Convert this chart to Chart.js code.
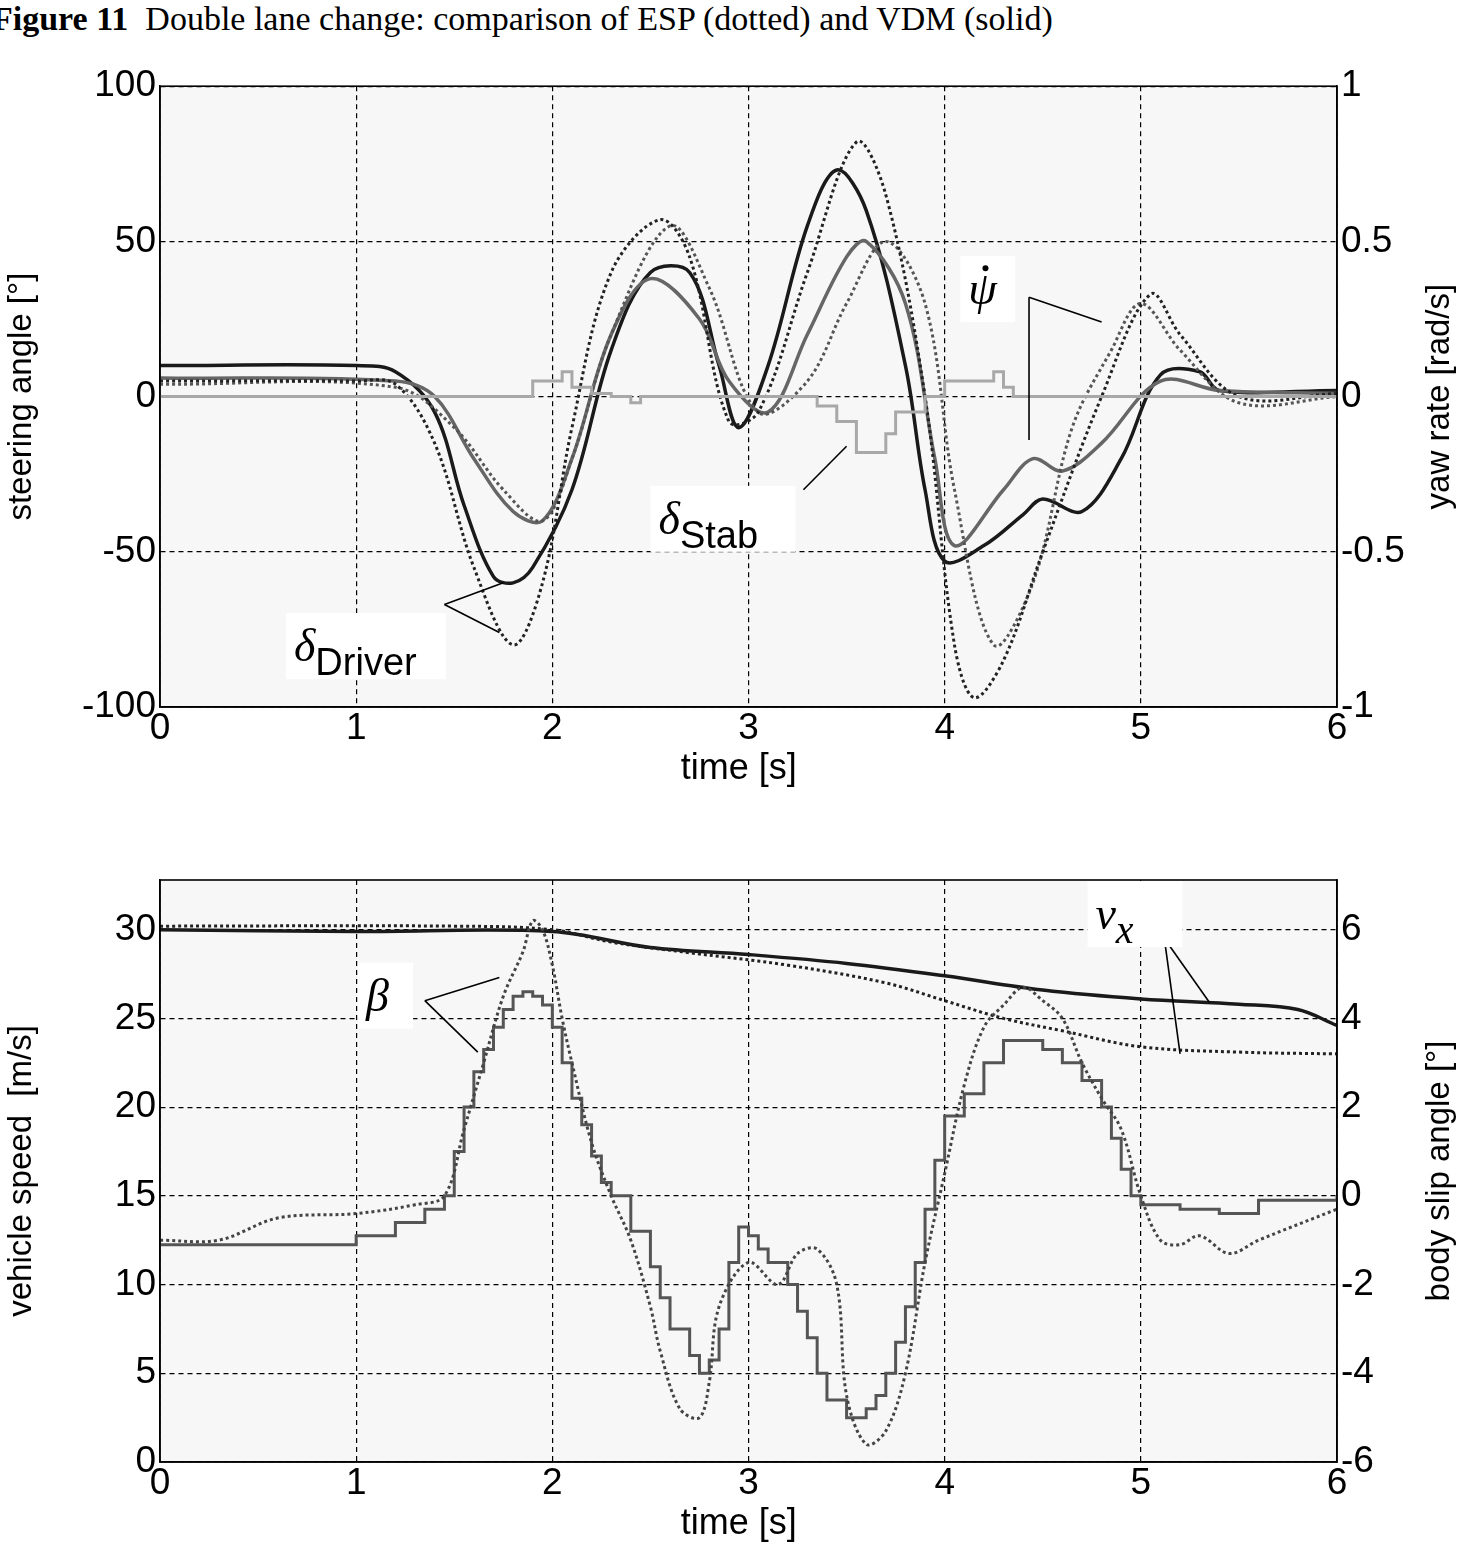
<!DOCTYPE html>
<html><head><meta charset="utf-8">
<script src="https://cdn.jsdelivr.net/npm/chart.js@4.4.0/dist/chart.umd.min.js"></script>
<style>
body{margin:0;background:#fff;width:1467px;height:1550px;position:relative;overflow:hidden;font-family:"Liberation Sans",Arial,sans-serif}
#title{position:absolute;left:-8px;top:0;font-family:"Liberation Serif",serif;font-size:34px;white-space:nowrap}
.wrap{position:absolute;left:0;width:1467px}
</style></head><body>
<div id="title"><b>Figure 11</b>&nbsp; Double lane change: comparison of ESP (dotted) and VDM (solid)</div>
<div class="wrap" style="top:60px;height:735px"><canvas id="top"></canvas></div>
<div class="wrap" style="top:850px;height:700px"><canvas id="bot"></canvas></div>
<script>
// top: steering angle [deg] (left), yaw rate [rad/s] (right)
const driverVdmT = [0,1.0,1.2,1.4,1.55,1.7,1.8,1.9,2.1,2.3,2.5,2.7,2.85,2.95,3.1,3.3,3.45,3.6,3.8,3.9,4.0,4.2,4.4,4.5,4.7,4.9,5.1,5.3,5.4,6.0];
const driverVdm  = [10,10,8,-5,-35,-58,-60,-55,-30,15,40,40,10,-10,10,55,73,60,10,-30,-53,-48,-38,-33,-37,-20,7,8,2,2];
const driverEspT = [0,1.0,1.2,1.4,1.6,1.8,1.95,2.1,2.3,2.55,2.7,2.9,3.05,3.3,3.55,3.7,3.9,4.05,4.15,4.3,4.5,4.8,5.05,5.2,5.5,6.0];
const driverEsp  = [5,5,4,-15,-55,-80,-60,-10,40,57,45,-8,-5,40,82,65,0,-80,-97,-85,-50,0,33,20,0,1];
const yawVdmT = [0,1.2,1.4,1.6,1.8,1.95,2.1,2.3,2.5,2.75,2.9,3.1,3.3,3.5,3.6,3.8,3.95,4.05,4.3,4.45,4.6,4.8,5.1,5.4,6.0];
const yawVdm  = [0.06,0.05,0.0,-0.2,-0.37,-0.4,-0.2,0.2,0.38,0.25,0.05,-0.05,0.2,0.45,0.5,0.3,-0.2,-0.48,-0.3,-0.2,-0.24,-0.15,0.05,0.02,0.01];
const yawEspT = [0,1.2,1.5,1.75,1.95,2.1,2.3,2.6,2.8,3.05,3.3,3.5,3.7,3.9,4.05,4.25,4.45,4.65,4.85,5.0,5.2,5.5,6.0];
const yawEsp  = [0.04,0.03,-0.1,-0.3,-0.4,-0.2,0.2,0.55,0.35,-0.05,0.05,0.3,0.5,0.3,-0.3,-0.8,-0.6,-0.1,0.15,0.3,0.15,-0.02,0.0];
const stabT = [0,1.85,1.9,2.05,2.1,2.2,2.3,2.4,2.45,3.3,3.35,3.45,3.55,3.7,3.75,3.9,4.0,4.1,4.25,4.3,4.35,6.0];
const stab  = [0,0,5,8,3,1,0,-2,0,0,-3,-8,-18,-12,-5,0,5,5,8,3,0,0];
// bottom: vehicle speed [m/s] (left), body slip angle [deg] (right)
const speedVdmT = [0,1.0,2.0,2.5,3.0,3.5,4.0,4.5,5.0,5.5,5.8,6.0];
const speedVdm  = [30,29.9,29.9,29.0,28.6,28.1,27.4,26.6,26.1,25.8,25.5,24.6];
const speedEspT = [0,1.5,2.0,2.3,2.7,3.2,3.7,4.0,4.3,4.6,5.0,5.5,6.0];
const speedEsp  = [30.2,30.2,30.0,29.3,28.7,28.0,27.0,26.0,25.0,24.3,23.4,23.1,23.0];
const betaVdmT = [0,0.5,1.0,1.2,1.35,1.45,1.5,1.55,1.6,1.65,1.7,1.75,1.8,1.85,1.9,1.95,2.0,2.05,2.1,2.15,2.2,2.25,2.3,2.4,2.5,2.55,2.6,2.7,2.75,2.8,2.85,2.9,2.95,3.0,3.05,3.1,3.2,3.25,3.3,3.35,3.4,3.5,3.6,3.65,3.7,3.75,3.8,3.85,3.9,3.95,4.0,4.1,4.2,4.3,4.5,4.6,4.7,4.8,4.85,4.9,4.95,5.0,5.2,5.4,5.6,6.0];
const betaVdm  = [-1.1,-1.1,-0.9,-0.6,-0.3,0,1,2,2.8,3.3,3.8,4.2,4.5,4.6,4.5,4.3,3.8,3.0,2.2,1.6,0.9,0.3,0,-0.8,-1.6,-2.3,-3.0,-3.6,-4.0,-3.7,-3.0,-1.5,-0.7,-0.9,-1.2,-1.5,-2.0,-2.6,-3.2,-4.0,-4.6,-5.0,-4.8,-4.5,-4.0,-3.3,-2.5,-1.5,-0.3,0.8,1.8,2.3,3.0,3.5,3.3,3.0,2.6,2.0,1.3,0.6,0,-0.2,-0.3,-0.4,-0.1,0];
const betaEspT = [0,0.3,0.6,1.0,1.3,1.45,1.55,1.65,1.75,1.85,1.9,1.95,2.0,2.05,2.1,2.2,2.3,2.4,2.5,2.55,2.65,2.75,2.8,2.85,3.0,3.15,3.25,3.35,3.45,3.5,3.6,3.7,3.8,3.9,4.0,4.1,4.2,4.3,4.4,4.5,4.6,4.7,4.8,4.9,5.0,5.1,5.2,5.3,5.45,5.6,6.0];
const betaEsp  = [-1.0,-1.0,-0.5,-0.4,-0.2,0,1.5,3.0,4.5,5.5,6.2,6.0,5.2,4.0,3.0,1.2,0,-1.0,-2.5,-3.5,-4.8,-5.0,-4.2,-2.5,-1.5,-2.0,-1.3,-1.2,-2.0,-4.5,-5.6,-5.3,-4.0,-1.5,0.5,2.5,3.8,4.3,4.7,4.4,4.0,3.0,2.2,1.5,0,-1.0,-1.1,-0.9,-1.3,-1.0,-0.3];
const xTicks = [0,1,2,3,4,5,6];

const tickFont = {family:'"Liberation Sans",Arial,sans-serif', size:37};
const titleFont = {family:'"Liberation Sans",Arial,sans-serif', size:33};
const pts = (t, v) => t.map((x, i) => ({x, y: v[i]}));
const grid = {color:'#000', lineWidth:1.2, drawTicks:false};
const border = {color:'#000', width:1.5, dash:[5,4]};

function ds(t, v, axis, color, dotted, width, stepped) {
  return {data: pts(t, v), yAxisID: axis, borderColor: color, borderWidth: width,
    borderDash: dotted ? [3,3] : [], pointRadius: 0, tension: stepped ? 0 : 0.35,
    stepped: stepped ? 'before' : false, fill: false};
}

const annot = {
  id: 'annot',
  beforeDraw(c) {
    const a = c.chartArea, ctx = c.ctx;
    ctx.save(); ctx.fillStyle = '#f7f7f7';
    ctx.fillRect(a.left, a.top, a.width, a.height); ctx.restore();
  },
  afterDraw(c, args, o) {
    const ctx = c.ctx, sx = c.scales.x, sy = c.scales.y, a = c.chartArea;
    ctx.save();
    ctx.strokeStyle = '#000'; ctx.lineWidth = 1.6; ctx.setLineDash([]);
    ctx.strokeRect(a.left, a.top, a.width, a.height);
    ctx.fillStyle = '#000'; ctx.textAlign = 'center';
    ctx.font = '36px "Liberation Sans",Arial,sans-serif';
    ctx.fillText('time [s]', sx.getPixelForValue(2.95), a.bottom + 72);
    ctx.save();
    ctx.translate(1440, (a.top + a.bottom) / 2); ctx.rotate(-Math.PI / 2);
    ctx.font = '33px "Liberation Sans",Arial,sans-serif';
    ctx.textBaseline = 'middle';
    ctx.fillText(o.rightTitle, 0, 0);
    ctx.restore();
    (o.lines || []).forEach(l => {
      ctx.beginPath();
      ctx.moveTo(sx.getPixelForValue(l[0]), sy.getPixelForValue(l[1]));
      ctx.lineTo(sx.getPixelForValue(l[2]), sy.getPixelForValue(l[3]));
      ctx.stroke();
    });
    (o.labels || []).forEach(l => {
      const x = sx.getPixelForValue(l.x), y = sy.getPixelForValue(l.y);
      ctx.fillStyle = '#fff';
      ctx.fillRect(x - l.w / 2, y - 38, l.w, 66);
      ctx.fillStyle = '#000'; ctx.textAlign = 'left';
      ctx.font = 'italic 46px "Liberation Serif",serif';
      ctx.fillText(l.main, x - l.w / 2 + 8, y + 10);
      const w = ctx.measureText(l.main).width;
      if (l.dot) {
        ctx.beginPath(); ctx.arc(x - l.w / 2 + 8 + w * 0.6, y - 26, 3, 0, Math.PI * 2); ctx.fill();
      }
      if (l.sub) {
        ctx.font = l.subFont || '38px "Liberation Sans",Arial,sans-serif';
        ctx.fillText(l.sub, x - l.w / 2 + 8 + w, y + 24);
      }
    });
    ctx.restore();
  }
};

function xScale() {
  return {type:'linear', min:0, max:6, grid: grid, border: border,
    afterBuildTicks: s => { s.ticks = xTicks.map(v => ({value: v})); },
    ticks: {color:'#000', font: tickFont, padding: 0},
    afterFit: s => { s.height = 88; }};
}
function yScale(pos, min, max, step, title, lo, hi) {
  return {type:'linear', position: pos, min, max,
    grid: pos === 'left' ? grid : {display:false, drawTicks:false},
    border: pos === 'left' ? border : {color:'#000', width:1.5},
    afterBuildTicks: s => { s.ticks = s.ticks.filter(t => t.value >= lo && t.value <= hi); },
    ticks: {color:'#000', font: tickFont, stepSize: step, padding: 4, callback: v => String(v)},
    title: {display: pos === 'left', text:title, color:'#000', font: titleFont, padding: 2},
    afterFit: s => { s.width = pos === 'left' ? 160 : 130; }};
}

new Chart(document.getElementById('top'), {
  type: 'line',
  data: {datasets: [
    ds(stabT, stab, 'y', '#a8a8a8', false, 3, true),
    ds(driverEspT, driverEsp, 'y', '#222', true, 3),
    ds(yawEspT, yawEsp, 'y1', '#555', true, 3),
    ds(yawVdmT, yawVdm, 'y1', '#666', false, 3.5),
    ds(driverVdmT, driverVdm, 'y', '#1a1a1a', false, 3.5)
  ]},
  options: {
    responsive: true, maintainAspectRatio: false, animation: false,
    layout: {padding: {top: 25, bottom: 0}},
    plugins: {legend: {display:false}, tooltip: {enabled:false},
      annot: {
        rightTitle: 'yaw rate [rad/s]',
        lines: [[1.45,-67,1.75,-60],[1.45,-67,1.73,-76],[3.28,-30,3.5,-16],[4.43,32,4.43,-14],[4.43,32,4.8,24]],
        labels: [{x:1.05, y:-82, w:160, main:'\u03B4', sub:'Driver'}, {x:2.87, y:-41, w:145, main:'\u03B4', sub:'Stab'}, {x:4.22, y:33, w:55, main:'\u03C8', dot:true}]
      }},
    scales: {
      x: xScale(),
      y: yScale('left', -100, 100, 50, 'steering angle [\u00B0]', -100, 100),
      y1: yScale('right', -1, 1, 0.5, '', -1, 1)
    }
  },
  plugins: [annot]
});

new Chart(document.getElementById('bot'), {
  type: 'line',
  data: {datasets: [
    ds(betaEspT, betaEsp, 'y1', '#444', true, 3),
    ds(betaVdmT, betaVdm, 'y1', '#555', false, 3, true),
    ds(speedEspT, speedEsp, 'y', '#222', true, 3),
    ds(speedVdmT, speedVdm, 'y', '#1a1a1a', false, 3.5)
  ]},
  options: {
    responsive: true, maintainAspectRatio: false, animation: false,
    layout: {padding: {top: 30, bottom: 0}},
    plugins: {legend: {display:false}, tooltip: {enabled:false},
      annot: {
        rightTitle: 'body slip angle [\u00B0]',
        lines: [[1.35,26,1.73,27.3],[1.35,26,1.62,23.1],[5.12,29.5,5.35,25.9],[5.12,29.5,5.2,23]],
        labels: [{x:1.15, y:26, w:55, main:'\u03B2'}, {x:4.97, y:30.6, w:95, main:'v', sub:'x', subFont:'italic 40px "Liberation Serif",serif'}]
      }},
    scales: {
      x: xScale(),
      y: yScale('left', 0, 32.8, 5, 'vehicle speed  [m/s]', 0, 30),
      y1: yScale('right', -6, 7.12, 2, '', -6, 6)
    }
  },
  plugins: [annot]
});
</script>
</body></html>
